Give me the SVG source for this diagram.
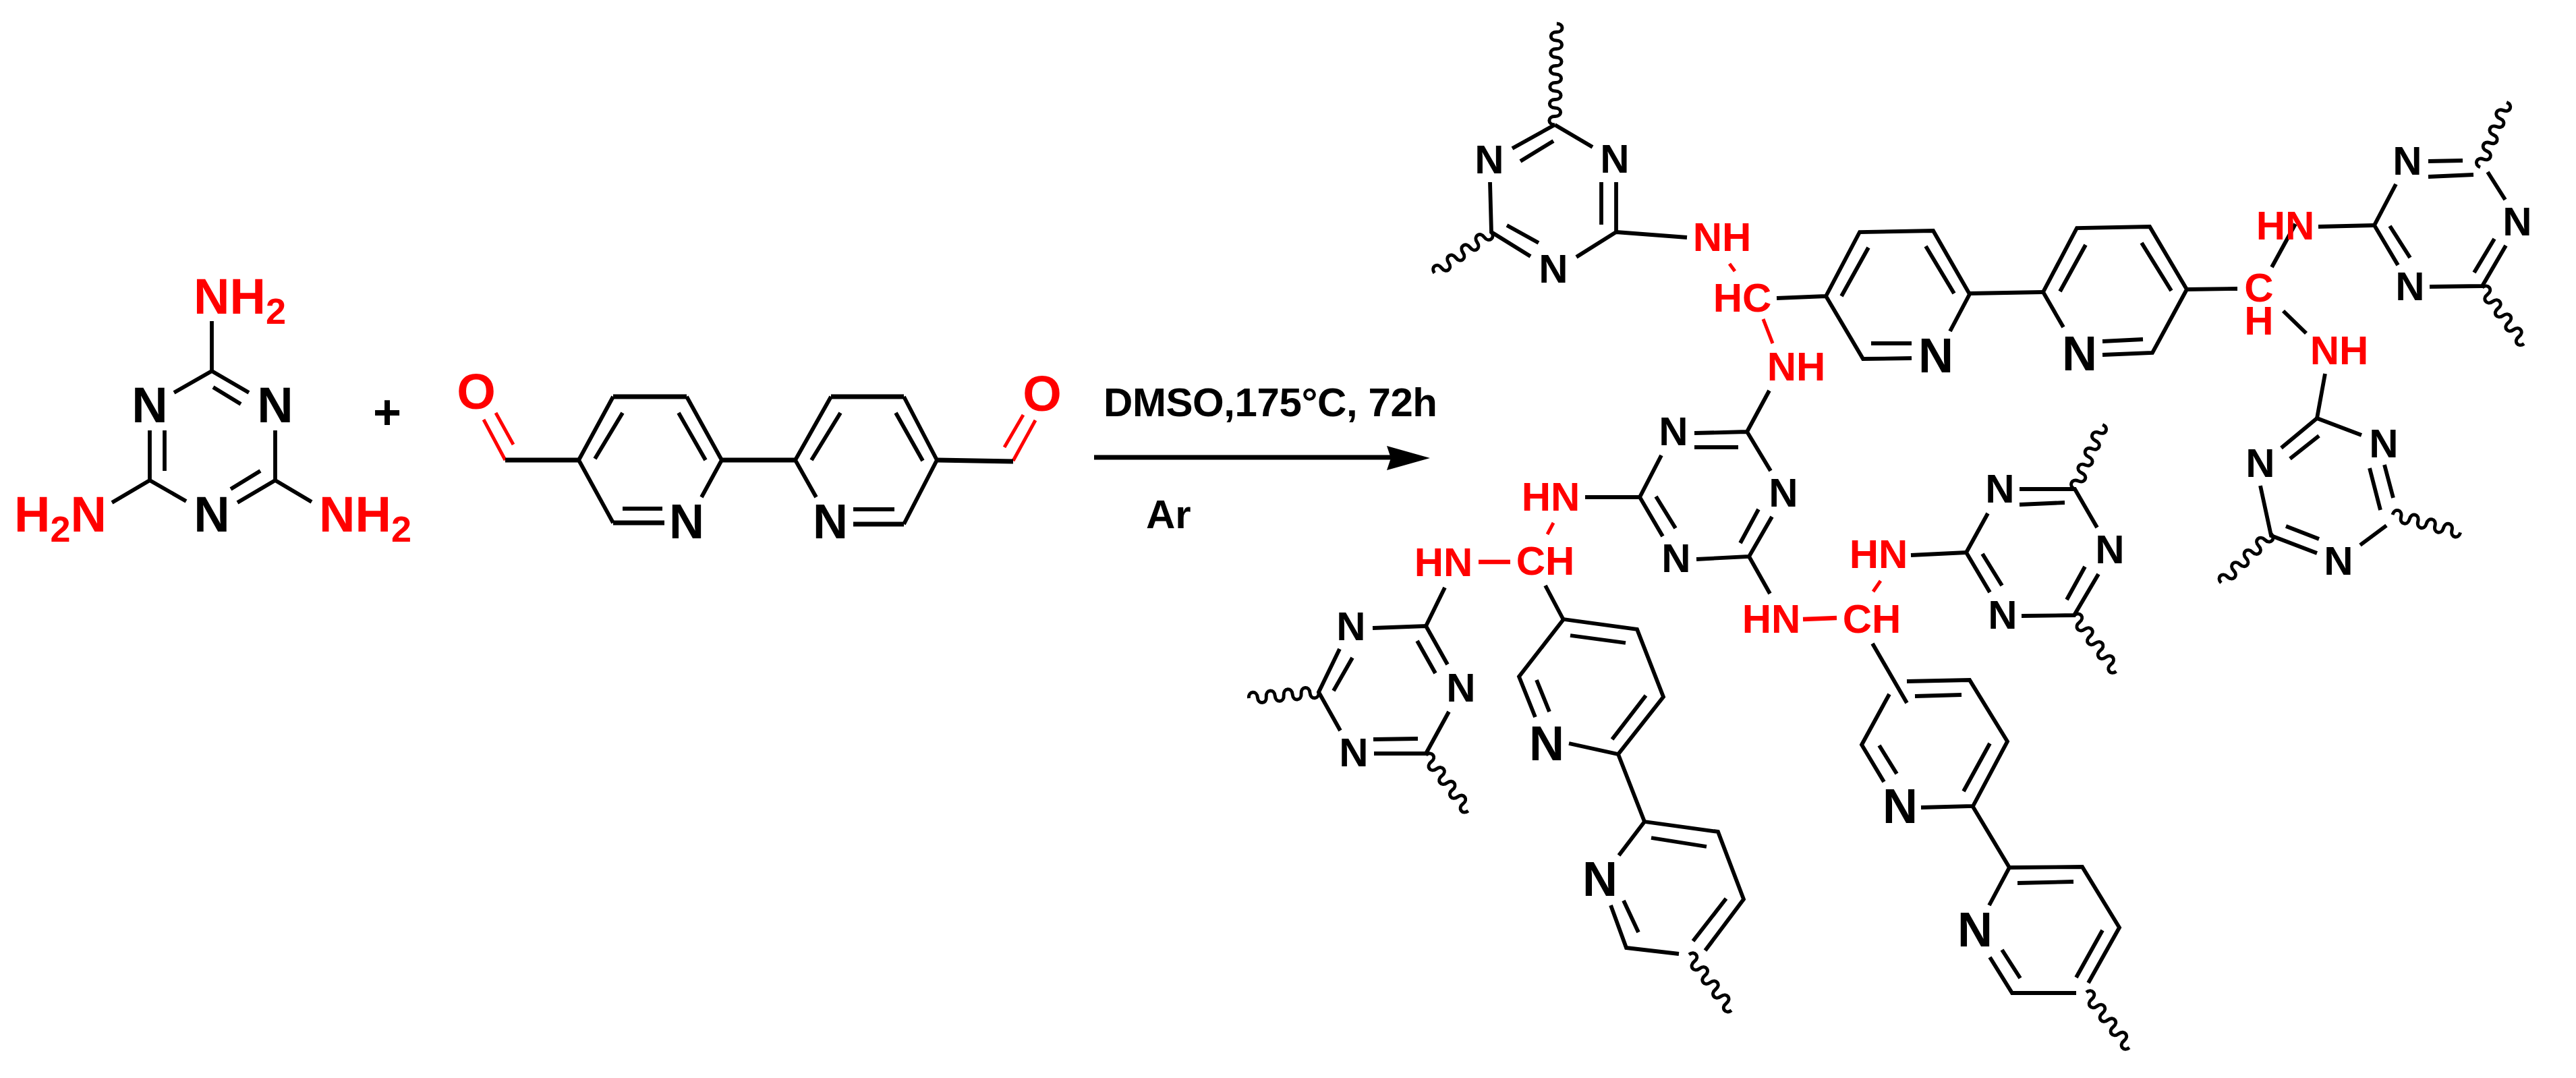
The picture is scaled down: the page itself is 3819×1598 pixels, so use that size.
<svg xmlns="http://www.w3.org/2000/svg" width="3819" height="1598" viewBox="0 0 3819 1598">
<style>
text{font-family:"Liberation Sans",Arial,sans-serif;font-weight:700;text-anchor:middle}
.n{font-size:60px;fill:#000}
.p{font-size:72px;fill:#000}
.m{font-size:74px;fill:#000}
.r{font-size:60px;fill:#f00}
.a{font-size:74px;fill:#f00;text-anchor:start}
.o{font-size:74px;fill:#f00}
.t{font-size:60px;fill:#000;text-anchor:start}
.s{font-size:54px}
.b,.c,.k,.w{fill:none;stroke:#000;stroke-width:5.800;stroke-linejoin:miter}
.c{stroke:#f00;stroke-width:5}
.k{stroke-width:7}
.w{stroke-width:5}
</style>
<defs>
<path id="w4" d="M0 0c0-11 13-11 13 0s13 11 13 0 13-11 13 0 13 11 13 0 13-11 13 0 13 11 13 0 13-11 13 0 13 11 13 0"/>
<path id="w6" d="M0 0c0-11 12.500-11 12.500 0s12.500 11 12.500 0 12.500-11 12.500 0 12.500 11 12.500 0 12.500-11 12.500 0 12.500 11 12.500 0 12.500-11 12.500 0 12.500 11 12.500 0 12.500-11 12.500 0 12.500 11 12.500 0 12.500-11 12.500 0 12.500 11 12.500 0"/>
</defs>
<rect width="3819" height="1598" fill="#fff"/>
<g id="connectors">
<path class="b" d="M314 550L314 476M314 550L258 582M314 550L369 582M316 574L357 599M222 638L222 712M244 638L244 698M408 638L408 712M222 712L166 745M222 712L276 743M408 712L352 745M386 698L342 725M408 712L462 744"/>
<path class="c" d="M749 682L717 622M761 659L735 612M1502 683L1535 623M1489 663L1517 615"/>
<path class="k" d="M749 682L858 682M1070 682L1179 682M1389 682L1502 684M909 775L985 775M1265 777L1340 777M909 588L1018 588M1232 588L1340 588"/>
<path class="b" d="M858 682L909 588M1018 588L1070 682L1040 737M923 612L882 680M1006 612L1046 682M858 682L909 775M923 754L982 754M1210 737L1179 682L1232 588M1340 588L1389 682L1340 777M1246 612L1203 682M1328 612L1368 683M1265 755L1326 755"/>
<path class="k" d="M1622 678L2064 678"/>
<path d="M2056 661L2120 679L2056 697L2062 679Z" fill="#000"/>
<path class="b" d="M2305 185L2242 220M2303 209L2254 239M2305 185L2361 218M2209 270L2211 344L2269 380M2234 334L2281 360M2396 270L2396 344L2337 381M2374 270L2374 333M2396 344L2501 352"/>
<path class="c" d="M2564 391L2572 402M2614 473L2628 509M2303 775L2294 792M2788 861L2777 877"/>
<path class="c" style="stroke-width:6.500" d="M2192 833L2239 833M2673 918L2723 916"/>
<path class="b" d="M2634 442L2707 439M2770 367L2730 439M2707 439L2757 344L2866 342L2920 436L2891 491M2855 365L2897 435M2707 439L2762 532L2834 531M2774 509L2834 509M2920 435L3029 433"/>
<path class="b" d="M3059 485L3029 433L3079 338L3187 336L3242 429L3191 523L3117 526M3092 363L3054 432M3175 360L3219 431M3117 506L3177 503M3242 429L3317 428M3403 332L3368 396M3385 461L3419 494M3447 554L3435 620M3437 336L3520 334"/>
<path class="b" d="M3552 273L3520 334L3555 393M3543 335L3573 382M3600 262L3667 259M3600 239L3651 238M3688 255L3714 296M3602 425L3680 424L3715 364M3668 404L3698 354"/>
<path class="b" d="M3435 620L3501 645M3435 620L3382 664M3438 646L3395 680M3513 694L3529 756M3535 689L3548 738M3538 779L3499 808M3435 820L3367 794L3351 720M3438 799L3389 780"/>
<path class="b" d="M2623 579L2590 640L2625 698M2512 642L2590 640M2512 663L2577 663M2463 675L2431 737L2465 795M2455 736L2484 783M2515 829L2593 825L2627 766M2580 805L2607 755M2593 825L2624 880M2350 737L2431 737M2291 868L2318 919M2142 871L2114 928M2776 954L2827 1042M2833 823L2915 819"/>
<path class="b" d="M2035 931L2114 928L2146 985M2101 950L2128 998M2148 1055L2114 1117L2037 1117M2102 1095L2036 1096M1987 1083L1955 1026L1986 962M1977 1024L2005 975"/>
<path class="b" d="M2947 761L2915 819L2950 878M2939 821L2968 868M2994 725L3076 725L3109 782M2994 748L3061 745M2997 913L3075 912L3111 851M3064 889L3091 840"/>
<path class="b" d="M2801 1029L2760 1104L2793 1159M2786 1105L2812 1147M2827 1010L2920 1008L2976 1099L2925 1195L2848 1197M2839 1032L2908 1030M2950 1102L2911 1173M2925 1196L2979 1286"/>
<path class="b" d="M2949 1342L2979 1286L3087 1285L3142 1375L3096 1457M2991 1309L3074 1307M3117 1379L3078 1449M2950 1419L2983 1472L3078 1472M2968 1408L2995 1450"/>
<path class="b" d="M2276 1063L2252 1003L2318 918L2427 933L2466 1033L2399 1118L2326 1102M2328 942L2410 953M2440 1031L2390 1096M2278 1008L2297 1055M2399 1118L2438 1218"/>
<path class="b" d="M2400 1268L2438 1218L2547 1233L2585 1333L2528 1409M2448 1242L2530 1255M2559 1332L2510 1395M2388 1342L2411 1405L2489 1414M2429 1382L2407 1335"/>
<g class="w">
<use href="#w6" transform="translate(2305 185) rotate(-88.900)"/>
<use href="#w4" transform="translate(2211 344) rotate(144.200)"/>
<use href="#w4" transform="translate(3677 248) rotate(-67.900)"/>
<use href="#w4" transform="translate(3680 426) rotate(53.400)"/>
<use href="#w4" transform="translate(3367 791) rotate(135.400)"/>
<use href="#w4" transform="translate(3547 763) rotate(14.700)"/>
<use href="#w4" transform="translate(1955 1026) rotate(175)"/>
<use href="#w4" transform="translate(2114 1119) rotate(52.900)"/>
<use href="#w4" transform="translate(3076 725) rotate(-66.700)"/>
<use href="#w4" transform="translate(3075 912) rotate(53.100)"/>
<use href="#w4" transform="translate(3093 1471) rotate(52.100)"/>
<use href="#w4" transform="translate(2504 1415) rotate(52.700)"/>
</g>
</g>
<g id="melamine">
<text class="m" x="222" y="626">N</text><text class="m" x="408" y="626">N</text><text class="m" x="314" y="788">N</text>
<text class="a" x="287" y="465">NH<tspan class="s" dy="15">2</tspan></text>
<text class="a" x="21" y="788">H<tspan class="s" dy="15">2</tspan><tspan dy="-15">N</tspan></text>
<text class="a" x="473" y="788">NH<tspan class="s" dy="15">2</tspan></text>
</g>
<g id="plus"><text x="574" y="636" style="font-size:72px">+</text></g>
<g id="bipyridine-dialdehyde">
<text class="o" x="706" y="606">O</text><text class="o" x="1545" y="609">O</text>
<text class="p" x="1018" y="798">N</text><text class="p" x="1231" y="798">N</text>
</g>
<g id="conditions">
<text class="t" x="1636" y="617" textLength="495" lengthAdjust="spacing">DMSO,175°C, 72h</text>
<text class="t" x="1699" y="783">Ar</text>
</g>
<g id="triazine-a"><text class="n" x="2208" y="257">N</text><text class="n" x="2394" y="256">N</text><text class="n" x="2303" y="419">N</text></g>
<g id="triazine-b"><text class="n" x="3569" y="259">N</text><text class="n" x="3732" y="349">N</text><text class="n" x="3573" y="445">N</text></g>
<g id="triazine-c"><text class="n" x="3534" y="678">N</text><text class="n" x="3351" y="707">N</text><text class="n" x="3467" y="852">N</text></g>
<g id="triazine-d"><text class="n" x="2481" y="660">N</text><text class="n" x="2644" y="751">N</text><text class="n" x="2485" y="848">N</text></g>
<g id="triazine-e"><text class="n" x="2003" y="949">N</text><text class="n" x="2166" y="1040">N</text><text class="n" x="2007" y="1136">N</text></g>
<g id="triazine-f"><text class="n" x="2965" y="745">N</text><text class="n" x="3128" y="835">N</text><text class="n" x="2969" y="932">N</text></g>
<g id="pyridines">
<text class="p" x="2870" y="552">N</text><text class="p" x="3083" y="549">N</text><text class="p" x="2817" y="1220">N</text><text class="p" x="2928" y="1403">N</text><text class="p" x="2293" y="1127">N</text><text class="p" x="2372" y="1328">N</text>
</g>
<g id="linkers">
<text class="r" x="2553" y="372">NH</text><text class="r" x="2583" y="462">HC</text><text class="r" x="2663" y="564">NH</text>
<text class="r" x="3349" y="447">C<tspan x="3349" y="496">H</tspan></text><text class="r" x="3388" y="355">HN</text><text class="r" x="3468" y="540">NH</text>
<text class="r" x="2299" y="757">HN</text><text class="r" x="2140" y="854">HN</text><text class="r" x="2291" y="852">CH</text>
<text class="r" x="2626" y="938">HN</text><text class="r" x="2775" y="938">CH</text><text class="r" x="2785" y="842">HN</text>
</g>
</svg>
